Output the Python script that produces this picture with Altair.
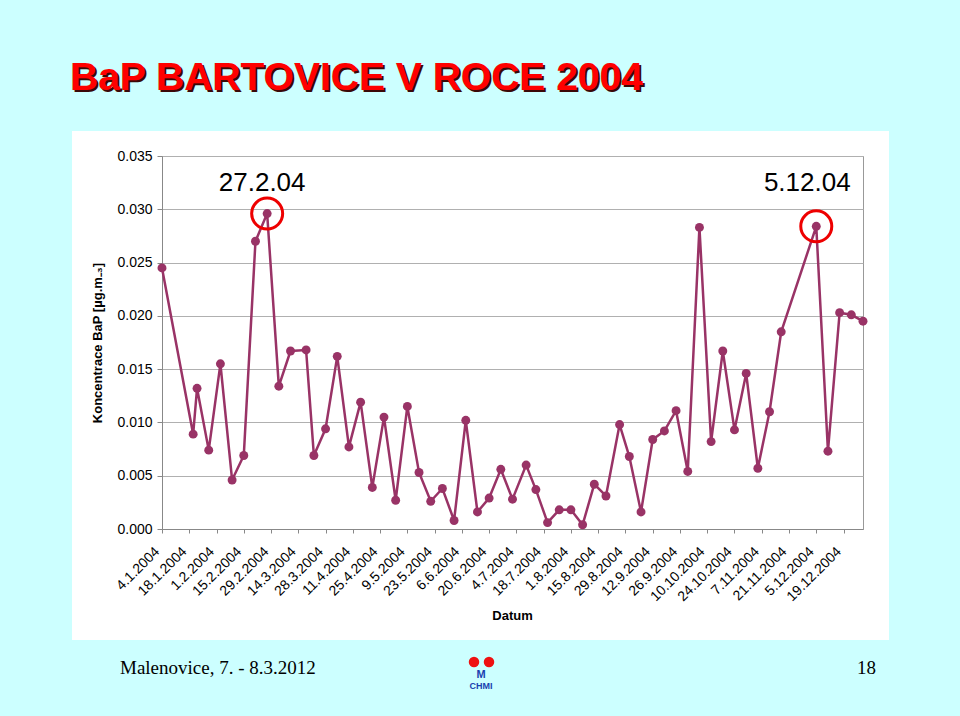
import altair as alt
import pandas as pd

# ---- data ----
dates = [
    "4.1.2004", "20.1.2004", "22.1.2004", "28.1.2004", "3.2.2004", "9.2.2004",
    "15.2.2004", "21.2.2004", "27.2.2004", "4.3.2004", "10.3.2004", "18.3.2004",
    "22.3.2004", "28.3.2004", "3.4.2004", "9.4.2004", "15.4.2004", "21.4.2004",
    "27.4.2004", "3.5.2004", "9.5.2004", "15.5.2004", "21.5.2004", "27.5.2004",
    "2.6.2004", "8.6.2004", "14.6.2004", "20.6.2004", "26.6.2004", "2.7.2004",
    "9.7.2004", "14.7.2004", "20.7.2004", "26.7.2004", "1.8.2004", "7.8.2004",
    "13.8.2004", "19.8.2004", "26.8.2004", "31.8.2004", "6.9.2004", "12.9.2004",
    "18.9.2004", "24.9.2004", "30.9.2004", "6.10.2004", "12.10.2004", "18.10.2004",
    "24.10.2004", "30.10.2004", "5.11.2004", "11.11.2004", "17.11.2004", "5.12.2004",
    "11.12.2004", "17.12.2004", "23.12.2004", "29.12.2004",
]
values = [
    0.0245, 0.0089, 0.0132, 0.0074, 0.0155, 0.0046,
    0.0069, 0.0270, 0.0296, 0.0134, 0.0167, 0.0168,
    0.0069, 0.0094, 0.0162, 0.0077, 0.0119, 0.0039,
    0.0105, 0.0027, 0.0115, 0.0053, 0.0026, 0.0038,
    0.0008, 0.0102, 0.0016, 0.0029, 0.0056, 0.0028,
    0.0060, 0.0037, 0.0006, 0.0018, 0.0018, 0.0004,
    0.0042, 0.0031, 0.0098, 0.0068, 0.0016, 0.0084,
    0.0092, 0.0111, 0.0054, 0.0283, 0.0082, 0.0167,
    0.0093, 0.0146, 0.0057, 0.0110, 0.0185, 0.0284,
    0.0073, 0.0203, 0.0201, 0.0195,
]
tick_labels = [
    "4.1.2004", "18.1.2004", "1.2.2004", "15.2.2004", "29.2.2004", "14.3.2004",
    "28.3.2004", "11.4.2004", "25.4.2004", "9.5.2004", "23.5.2004", "6.6.2004",
    "20.6.2004", "4.7.2004", "18.7.2004", "1.8.2004", "15.8.2004", "29.8.2004",
    "12.9.2004", "26.9.2004", "10.10.2004", "24.10.2004", "7.11.2004", "21.11.2004",
    "5.12.2004", "19.12.2004",
]
y_ticks = [0.0, 0.005, 0.010, 0.015, 0.020, 0.025, 0.030, 0.035]
peak_dates = ["27.2.2004", "5.12.2004"]
peak_texts = ["27.2.04", "5.12.04"]

title_text = "BaP BARTOVICE V ROCE 2004"
y_title = "Koncentrace BaP [µg.m₋₃]"
x_title = "Datum"
footer_left = "Malenovice, 7. - 8.3.2012"
footer_right = "18"


def iso(s):
    d, m, y = s.split(".")
    return f"{y}-{int(m):02d}-{int(d):02d}"


def dt(s):
    d, m, y = s.split(".")
    return alt.DateTime(year=int(y), month=int(m), date=int(d), utc=True)


df = pd.DataFrame({"datum": [iso(s) for s in dates], "bap": values})
peaks = df[df["datum"].isin([iso(s) for s in peak_dates])].reset_index(drop=True)
peaks["label"] = peak_texts

FONT = "Liberation Sans"
LINE = "#993366"
CYAN = "#ccffff"
W, H = 701, 373
PL, PT = 162, 156
PR, PB = 960 - PL - W, 716 - PT - H

x_enc = alt.X(
    "datum:T",
    scale=alt.Scale(type="utc", domain=[dt("4.1.2004"), dt("29.12.2004")]),
    axis=alt.Axis(
        values=[dt(s) for s in tick_labels],
        labelExpr="utcFormat(datum.value, '%-d.%-m.%Y')",
        labelAngle=-45,
        labelAlign="right",
        labelBaseline="bottom",
        labelFont=FONT,
        labelFontSize=14,
        labelColor="black",
        labelPadding=21,
        labelOverlap=False,
        labelFlush=False,
        tickSize=4,
        tickColor="#888888",
        domainColor="#888888",
        grid=False,
        title=x_title,
        titleFont=FONT,
        titleFontSize=13,
        titleFontWeight="bold",
        titleColor="black",
        titleX=350,
        titleY=86,
        titleBaseline="middle",
        titleAlign="center",
    ),
)
y_enc = alt.Y(
    "bap:Q",
    scale=alt.Scale(domain=[0, 0.035], nice=False, zero=True),
    axis=alt.Axis(
        values=y_ticks,
        format=".3f",
        labelFont=FONT,
        labelFontSize=14,
        labelColor="black",
        labelPadding=5,
        tickSize=5,
        tickColor="#888888",
        domainColor="#888888",
        grid=True,
        gridColor="#b0b0b0",
        gridWidth=1.2,
        title=y_title,
        titleFont=FONT,
        titleFontSize=13,
        titleFontWeight="bold",
        titleColor="black",
        titleAngle=-90,
        titleX=-65,
        titleY=H / 2,
        titleAlign="center",
        titleBaseline="middle",
    ),
)

one = alt.Data(values=[{}])


def cyan_rect(x0, x1, y0, y1):
    return alt.Chart(one).mark_rect(color=CYAN).encode(
        x=alt.value(x0 - PL), x2=alt.value(x1 - PL),
        y=alt.value(y0 - PT), y2=alt.value(y1 - PT),
    )


frame = [
    cyan_rect(0, 960, 0, 131),
    cyan_rect(0, 960, 640, 716),
    cyan_rect(0, 72, 131, 640),
    cyan_rect(889, 960, 131, 640),
]

title_shadow = alt.Chart(one).mark_text(
    text=title_text, align="left", baseline="alphabetic", font=FONT,
    fontSize=39, fontWeight="bold", color="#3a0808",
).encode(x=alt.value(70 - PL + 2), y=alt.value(90 - PT + 2))
title_main = alt.Chart(one).mark_text(
    text=title_text, align="left", baseline="alphabetic", font=FONT,
    fontSize=39, fontWeight="bold", color="#ff0000",
).encode(x=alt.value(70 - PL), y=alt.value(90 - PT))

foot_l = alt.Chart(one).mark_text(
    text=footer_left, align="left", baseline="alphabetic",
    font="Liberation Serif", fontSize=19, color="black",
).encode(x=alt.value(120 - PL), y=alt.value(674 - PT))
foot_r = alt.Chart(one).mark_text(
    text=footer_right, align="right", baseline="alphabetic",
    font="Liberation Serif", fontSize=19, color="black",
).encode(x=alt.value(876 - PL), y=alt.value(674 - PT))

logo_l = alt.Chart(one).mark_point(filled=True, shape="circle", size=110, color="#ee1111", opacity=1).encode(
    x=alt.value(474 - PL), y=alt.value(662 - PT))
logo_r = alt.Chart(one).mark_point(filled=True, shape="circle", size=110, color="#ee1111", opacity=1).encode(
    x=alt.value(489 - PL), y=alt.value(662 - PT))
logo_w = alt.Chart(one).mark_text(
    text="M", font=FONT, fontSize=11, fontWeight="bold", color="#1a3fb0", baseline="middle",
).encode(x=alt.value(481 - PL), y=alt.value(675 - PT))
logo_t = alt.Chart(one).mark_text(
    text="CHMI", font=FONT, fontSize=9, fontWeight="bold", color="#1a3fb0", baseline="middle",
).encode(x=alt.value(481 - PL), y=alt.value(686 - PT))

line = alt.Chart(df).mark_line(color=LINE, strokeWidth=2.5).encode(x=x_enc, y=y_enc)
pts = alt.Chart(df).mark_point(filled=True, shape="circle", size=80, color=LINE, opacity=1).encode(x=x_enc, y=y_enc)

rings = alt.Chart(peaks).mark_point(
    filled=False, shape="circle", size=961, color="#ee0000", strokeWidth=3, opacity=1
).encode(x=x_enc, y=y_enc)

lab1 = alt.Chart(peaks.iloc[[0]]).mark_text(
    font=FONT, fontSize=26, color="black", align="center", baseline="alphabetic", dx=-5, dy=-23,
).encode(x=x_enc, y=y_enc, text="label:N")
lab2 = alt.Chart(peaks.iloc[[1]]).mark_text(
    font=FONT, fontSize=26, color="black", align="center", baseline="alphabetic", dx=-9, dy=-35,
).encode(x=x_enc, y=y_enc, text="label:N")

chart = alt.layer(
    *frame, title_shadow, title_main, foot_l, foot_r, logo_l, logo_r, logo_w, logo_t,
    line, pts, rings, lab1, lab2,
).properties(
    width=W, height=H,
    autosize=alt.AutoSizeParams(type="none"),
    padding={"left": PL, "top": PT, "right": PR, "bottom": PB},
    background="white",
).configure_view(
    stroke="#999999", strokeWidth=1, fill="white",
)

chart.save("out.html", embed_options={"renderer": "svg", "actions": False})
